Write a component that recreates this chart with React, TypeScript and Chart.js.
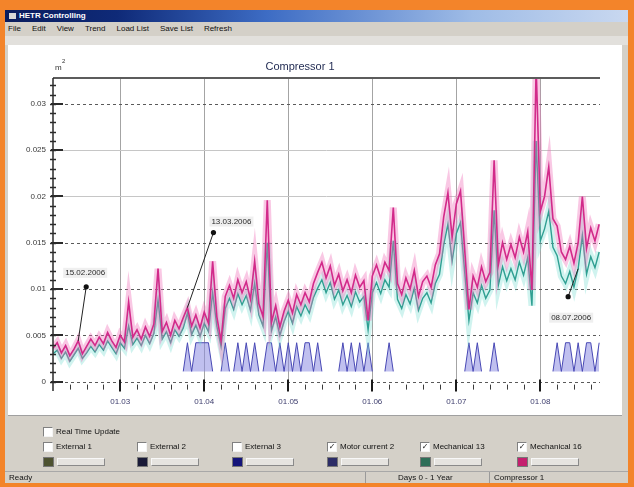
import React, { useEffect, useRef } from "react";
import { Chart, registerables } from "chart.js";

Chart.register(...registerables);

// Regularly sampled trend: sample k sits at SAMPLE_START + k * SAMPLE_STEP
const SAMPLE_START = 200;
const SAMPLE_STEP = 50;

// Mechanical 16 (magenta), units of 1e-3
const MECHANICAL_16 = [
  3.6, 4.2, 3.1, 3.9, 2.8, 3.5, 4.4, 3.0, 3.8, 4.6,
  3.9, 4.8, 4.1, 5.3, 4.4, 3.7, 5.0, 4.3, 8.6, 4.8,
  5.6, 4.6, 5.9, 4.9, 6.2, 12.2, 5.4, 6.4, 5.0, 6.6,
  5.7, 6.9, 8.0, 6.0, 7.2, 5.8, 7.5, 6.3, 13.0, 7.0,
  4.4, 9.2, 10.4, 9.0, 11.0, 9.6, 10.8, 8.9, 13.0, 8.4,
  7.0, 19.6, 6.4, 8.2, 5.9, 7.6, 8.8, 7.4, 9.4, 8.3,
  9.6, 8.6, 10.6, 11.8, 12.9, 11.2, 12.5, 10.4, 11.6, 9.8,
  11.0, 9.6, 11.5, 10.2, 10.9, 6.6, 11.4, 12.6, 11.2, 12.9,
  12.0, 18.8, 10.6, 9.4, 11.2, 10.0, 12.0, 9.2, 10.8, 11.4,
  10.2, 12.6, 13.8, 17.8, 20.4, 15.6, 19.2, 20.6, 14.2, 7.8,
  11.4, 10.2, 12.4, 10.8, 11.8, 23.9, 12.6, 15.0, 13.2, 14.8,
  13.4, 15.6, 14.0, 16.2, 9.9, 34.0, 18.4, 20.0, 23.2, 17.6,
  16.8, 14.0, 13.2, 14.6, 12.8, 15.0, 20.0, 14.4, 16.6, 15.2, 17.0,
];

// Mechanical 13 (teal), units of 1e-3
const MECHANICAL_13 = [
  3.0, 3.4, 2.5, 3.2, 2.2, 2.9, 3.6, 2.5, 3.1, 3.8,
  3.2, 4.0, 3.4, 4.4, 3.7, 3.0, 4.2, 3.6, 6.0, 4.0,
  4.7, 3.9, 5.0, 4.1, 5.2, 8.8, 4.6, 5.4, 4.2, 5.6,
  4.9, 5.8, 7.4, 5.1, 6.1, 4.9, 6.3, 5.4, 9.6, 6.0,
  3.8, 7.9, 9.0, 7.8, 9.5, 8.3, 9.3, 7.7, 10.6, 7.2,
  6.0, 15.0, 5.5, 7.0, 5.0, 6.5, 7.6, 6.3, 8.1, 7.1,
  8.3, 7.4, 9.1, 10.1, 11.0, 9.6, 10.7, 8.9, 9.9, 8.3,
  9.3, 8.1, 9.7, 8.6, 9.2, 5.6, 9.6, 10.7, 9.5, 11.0,
  10.2, 15.2, 8.9, 7.9, 9.4, 8.4, 10.1, 7.7, 9.0, 9.6,
  8.5, 10.6, 11.6, 14.8, 17.0, 13.0, 16.0, 17.2, 11.8, 6.6,
  9.6, 8.5, 10.4, 9.0, 9.9, 18.5, 10.4, 12.4, 10.9, 12.2,
  11.0, 12.9, 11.5, 13.4, 8.2, 26.0, 15.2, 16.5, 18.4, 14.5,
  13.6, 11.4, 10.6, 11.9, 10.2, 12.2, 15.8, 11.6, 13.5, 12.3, 14.0,
];

// Motor current 2: on/off state trace (low 1.1, high 4.2), no record before sample 31
const MOTOR_CURRENT_2 = [
  null, null, null, null, null, null, null, null, null, null,
  null, null, null, null, null, null, null, null, null, null,
  null, null, null, null, null, null, null, null, null, null,
  null,
  1.1, 4.2, 1.1, 4.2, 4.2, 4.2, 4.2, 1.1, 1.1, 1.1,
  4.2, 1.1, 1.1, 4.2, 1.1, 4.2, 1.1, 4.2, 1.1, 1.1,
  4.2, 4.2, 1.1, 4.2, 1.1, 4.2, 1.1, 4.2, 1.1, 4.2,
  4.2, 1.1, 4.2, 1.1, 1.1, 1.1, 1.1, 1.1, 4.2, 1.1,
  4.2, 1.1, 4.2, 1.1, 4.2, 1.1, 1.1, 1.1, 1.1, 4.2,
  1.1, 1.1, 1.1, 1.1, 1.1, 1.1, 1.1, 1.1, 1.1, 1.1,
  1.1, 1.1, 1.1, 1.1, 1.1, 1.1, 1.1, 1.1, 4.2, 1.1,
  4.2, 1.1, 1.1, 1.1, 4.2, 1.1, 1.1, 1.1, 1.1, 1.1,
  1.1, 1.1, 1.1, 1.1, 1.1, 1.1, 1.1, 1.1, 1.1, 4.2,
  1.1, 4.2, 4.2, 1.1, 4.2, 1.1, 4.2, 4.2, 1.1, 4.2,
];
const MOTOR_LOW = 1.1;

// Axes
const X_TICK_VALUES = [1000, 2000, 3000, 4000, 5000, 6000];
const X_TICK_LABELS = ["01.03", "01.04", "01.05", "01.06", "01.07", "01.08"];
const Y_TICK_VALUES = [0, 5, 10, 15, 20, 25, 30];
const Y_TICK_LABELS = ["0", "0.005", "0.01", "0.015", "0.02", "0.025", "0.03"];

// Marked samples
const CALLOUT_DATES = ["15.02.2006", "13.03.2006", "08.07.2006"];
const CALLOUT_SAMPLES = [6, 32, 125];
const CALLOUT_SERIES = ["m16", "m16", "m13"];

// Channel panel
const CHANNEL_NAMES = ["External 1", "External 2", "External 3", "Motor current 2", "Mechanical 13", "Mechanical 16"];
const CHANNEL_ON = [false, false, false, true, true, true];
const CHANNEL_COLORS = ["#4d5230", "#1a1a38", "#14147a", "#2c2c66", "#2e6e58", "#c4206e"];
const MENU_ITEMS = ["File", "Edit", "View", "Trend", "Load List", "Save List", "Refresh"];

const FONT = '"Liberation Sans", Arial, sans-serif';

const toPoints = (vals: (number | null)[]) =>
  vals.map((v, i) => ({ x: SAMPLE_START + i * SAMPLE_STEP, y: v }));

const SERIES: Record<string, number[]> = { m16: MECHANICAL_16, m13: MECHANICAL_13 };

// Callout geometry, pixels: dot offset from the sample, label centre offset from the dot
const CALLOUT_DOT = [[8, -54], [26, -75], [-10, 28]];
const CALLOUT_LABEL = [[-1, -14], [18, -11], [3, 21]];

const framePlugin = {
  id: "trendFrame",
  beforeDatasetsDraw(chart: any) {
    const { ctx, chartArea: a, scales } = chart;
    const x = scales.x, y = scales.y;
    ctx.save();
    // vertical grid
    ctx.strokeStyle = "#a4a4a4";
    ctx.lineWidth = 1;
    X_TICK_VALUES.forEach((v) => {
      const px = Math.round(x.getPixelForValue(v)) + 0.5;
      ctx.beginPath();
      ctx.moveTo(px, a.top);
      ctx.lineTo(px, a.bottom);
      ctx.stroke();
    });
    // horizontal grid
    Y_TICK_VALUES.forEach((v) => {
      const py = Math.round(y.getPixelForValue(v)) + 0.5;
      const light = v === 20 || v === 25;
      ctx.strokeStyle = light ? "#c6c6c6" : "#5a5a5a";
      ctx.setLineDash(light ? [] : [3, 3]);
      ctx.beginPath();
      ctx.moveTo(a.left, py);
      ctx.lineTo(a.right, py);
      ctx.stroke();
    });
    ctx.setLineDash([]);
    ctx.restore();
  },
  afterDatasetsDraw(chart: any) {
    const { ctx, chartArea: a, scales } = chart;
    const x = scales.x, y = scales.y;
    ctx.save();
    // top border
    ctx.strokeStyle = "#5c5c5c";
    ctx.lineWidth = 2;
    ctx.beginPath();
    ctx.moveTo(a.left, a.top);
    ctx.lineTo(a.right, a.top);
    ctx.stroke();
    // left axis
    ctx.strokeStyle = "#2a2a2a";
    ctx.lineWidth = 1.5;
    ctx.beginPath();
    ctx.moveTo(a.left, a.top);
    ctx.lineTo(a.left, a.bottom + 2);
    ctx.stroke();
    // y minor ticks
    ctx.lineWidth = 1.5;
    for (let v = Math.ceil(y.min); v <= y.max; v += 1) {
      const py = Math.round(y.getPixelForValue(v)) + 0.5;
      ctx.beginPath();
      ctx.moveTo(a.left - 3, py);
      ctx.lineTo(a.left + 3, py);
      ctx.stroke();
    }
    // y major ticks
    ctx.lineWidth = 2;
    Y_TICK_VALUES.forEach((v) => {
      const py = Math.round(y.getPixelForValue(v));
      ctx.beginPath();
      ctx.moveTo(a.left - 2, py);
      ctx.lineTo(a.left + 10, py);
      ctx.stroke();
    });
    // x minor ticks
    const y0 = y.getPixelForValue(0);
    ctx.lineWidth = 1;
    ctx.strokeStyle = "#3a3a3a";
    for (let v = 400; v <= x.max; v += 200) {
      if (v % 1000 === 0) continue;
      const px = Math.round(x.getPixelForValue(v)) + 0.5;
      ctx.beginPath();
      ctx.moveTo(px, y0 + 3);
      ctx.lineTo(px, y0 + 8);
      ctx.stroke();
    }
    // x major ticks
    ctx.strokeStyle = "#1a1a1a";
    ctx.lineWidth = 2;
    X_TICK_VALUES.forEach((v) => {
      const px = Math.round(x.getPixelForValue(v));
      ctx.beginPath();
      ctx.moveTo(px, y0 - 2);
      ctx.lineTo(px, y0 + 10);
      ctx.stroke();
    });
    // callouts
    ctx.font = `8px ${FONT}`;
    ctx.textAlign = "center";
    ctx.textBaseline = "middle";
    CALLOUT_DATES.forEach((label, k) => {
      const s = CALLOUT_SAMPLES[k];
      const vals = SERIES[CALLOUT_SERIES[k]];
      const tx = x.getPixelForValue(SAMPLE_START + s * SAMPLE_STEP);
      const ty = y.getPixelForValue(vals[s]);
      const dx = tx + CALLOUT_DOT[k][0];
      const dy = ty + CALLOUT_DOT[k][1];
      ctx.strokeStyle = "#222";
      ctx.lineWidth = 1;
      ctx.beginPath();
      ctx.moveTo(tx, ty);
      ctx.lineTo(dx, dy);
      ctx.stroke();
      ctx.fillStyle = "#111";
      ctx.beginPath();
      ctx.arc(dx, dy, 2.6, 0, Math.PI * 2);
      ctx.fill();
      const lx = dx + CALLOUT_LABEL[k][0];
      const ly = dy + CALLOUT_LABEL[k][1];
      const w = ctx.measureText(label).width + 4;
      ctx.fillStyle = "rgba(238,238,238,0.95)";
      ctx.fillRect(lx - w / 2, ly - 5, w, 10);
      ctx.fillStyle = "#2a2a2a";
      ctx.fillText(label, lx, ly);
    });
    ctx.restore();
  },
};

function Check({ on }: { on: boolean }) {
  return (
    <div
      style={{
        position: "absolute", left: 0, top: 0, width: 8, height: 8, background: "#fff",
        borderTop: "1px solid #808080", borderLeft: "1px solid #808080",
        borderRight: "1px solid #f4f4f4", borderBottom: "1px solid #f4f4f4",
        fontSize: 8, lineHeight: "8px", textAlign: "center", color: "#202020",
        fontFamily: '"DejaVu Sans", sans-serif',
      }}
    >
      {on ? "✓" : ""}
    </div>
  );
}

export default function App() {
  const canvasRef = useRef<HTMLCanvasElement>(null);

  useEffect(() => {
    const segHide = (ctx: any) =>
      ctx.p0.parsed.y <= MOTOR_LOW && ctx.p1.parsed.y <= MOTOR_LOW ? "rgba(0,0,0,0)" : undefined;
    const chart = new Chart(canvasRef.current as HTMLCanvasElement, {
      type: "line",
      data: {
        datasets: [
          {
            label: "Mechanical 16",
            data: toPoints(MECHANICAL_16),
            borderColor: "#d22a8a",
            borderWidth: 1.6,
            pointRadius: 0,
            order: 1,
          },
          {
            label: "Mechanical 16 band",
            data: toPoints(MECHANICAL_16),
            borderColor: "rgba(238,110,185,0.38)",
            borderWidth: 7,
            pointRadius: 0,
            order: 2,
          },
          {
            label: "Mechanical 13",
            data: toPoints(MECHANICAL_13),
            borderColor: "#2f9f92",
            borderWidth: 1.4,
            pointRadius: 0,
            order: 3,
          },
          {
            label: "Mechanical 13 band",
            data: toPoints(MECHANICAL_13),
            borderColor: "rgba(120,220,210,0.35)",
            borderWidth: 7,
            pointRadius: 0,
            order: 4,
          },
          {
            label: "Motor current 2",
            data: toPoints(MOTOR_CURRENT_2),
            borderColor: "#4848b4",
            backgroundColor: "rgba(140,140,225,0.55)",
            borderWidth: 1,
            pointRadius: 0,
            spanGaps: false,
            fill: { value: MOTOR_LOW },
            segment: { borderColor: segHide },
            order: 5,
          },
        ] as any,
      },
      options: {
        responsive: false,
        animation: false,
        devicePixelRatio: 1,
        layout: { padding: { left: 0, top: 33, right: 22, bottom: 0 } },
        plugins: {
          legend: { display: false },
          tooltip: { enabled: false },
          title: { display: false },
        },
        scales: {
          x: {
            type: "linear",
            min: 200,
            max: 6710,
            afterBuildTicks: (s: any) => {
              s.ticks = X_TICK_VALUES.map((v) => ({ value: v }));
            },
            afterFit: (s: any) => {
              s.height = 26;
            },
            grid: { display: false, drawTicks: false },
            border: { display: false },
            ticks: {
              padding: 8,
              autoSkip: false,
              maxRotation: 0,
              color: "#3c3c6c",
              font: { size: 8, family: FONT },
              callback: (v: any) => X_TICK_LABELS[X_TICK_VALUES.indexOf(v)] ?? "",
            },
          },
          y: {
            type: "linear",
            min: -0.8,
            max: 32.8,
            afterBuildTicks: (s: any) => {
              s.ticks = Y_TICK_VALUES.map((v) => ({ value: v }));
            },
            afterFit: (s: any) => {
              s.width = 45;
            },
            grid: { display: false, drawTicks: false },
            border: { display: false },
            ticks: {
              padding: 7,
              autoSkip: false,
              color: "#3a3a3a",
              font: { size: 8, family: FONT },
              callback: (v: any) => Y_TICK_LABELS[Y_TICK_VALUES.indexOf(v)] ?? "",
            },
          },
        },
      } as any,
      plugins: [framePlugin],
    });
    return () => chart.destroy();
  }, []);

  const colX = [43, 137, 232, 327, 420, 517];

  return (
    <div
      style={{
        position: "fixed", left: 0, top: 0, width: 634, height: 487, overflow: "hidden",
        background: "#f3842a", fontFamily: FONT, fontSize: 8, color: "#111",
      }}
    >
      {/* window body */}
      <div style={{ position: "absolute", left: 5, top: 10, width: 623, height: 473, background: "#d4d0c8" }} />
      {/* caption */}
      <div
        style={{
          position: "absolute", left: 5, top: 10, width: 623, height: 12,
          background: "linear-gradient(to right, #0a1d5e 0%, #0f2a78 18%, #3d6cc4 42%, #9fbce6 75%, #c9d8f0 100%)",
        }}
      >
        <div style={{ position: "absolute", left: 4, top: 3, width: 7, height: 6, background: "#d8d8d8" }} />
        <div style={{ position: "absolute", left: 14, top: 1, color: "#fff", fontWeight: "bold", fontSize: 8 }}>
          HETR Controlling
        </div>
      </div>
      {/* menu */}
      <div style={{ position: "absolute", left: 8, top: 24, display: "flex", gap: 11, fontSize: 8 }}>
        {MENU_ITEMS.map((m) => (
          <span key={m}>{m}</span>
        ))}
      </div>
      <div style={{ position: "absolute", left: 5, top: 36, width: 623, height: 9, background: "#e2e0dc" }} />
      {/* plot panel */}
      <div
        style={{
          position: "absolute", left: 8, top: 45, width: 614, height: 370, background: "#fff",
          borderBottom: "1px solid #a0a0a0",
        }}
      />
      <canvas
        ref={canvasRef}
        width={614}
        height={370}
        style={{ position: "absolute", left: 8, top: 45, width: 614, height: 370 }}
      />
      <div
        style={{
          position: "absolute", left: 250, top: 60, width: 100, textAlign: "center",
          fontSize: 11, color: "#1e2850",
        }}
      >
        Compressor 1
      </div>
      <div style={{ position: "absolute", left: 55, top: 63, fontSize: 8, color: "#333" }}>m</div>
      <div style={{ position: "absolute", left: 62, top: 58, fontSize: 6, color: "#333" }}>2</div>

      {/* channel panel */}
      <div style={{ position: "absolute", left: 43, top: 427 }}>
        <Check on={false} />
        <div style={{ position: "absolute", left: 13, top: 0, whiteSpace: "nowrap" }}>Real Time Update</div>
      </div>
      {CHANNEL_NAMES.map((name, k) => (
        <div key={name} style={{ position: "absolute", left: colX[k], top: 442 }}>
          <Check on={CHANNEL_ON[k]} />
          <div style={{ position: "absolute", left: 13, top: 0, whiteSpace: "nowrap" }}>{name}</div>
          <div
            style={{
              position: "absolute", left: 0, top: 15, width: 9, height: 8,
              background: CHANNEL_COLORS[k], border: "1px solid #777",
            }}
          />
          <div
            style={{
              position: "absolute", left: 14, top: 16, width: 46, height: 6, background: "#e6e4e0",
              borderTop: "1px solid #f8f8f8", borderLeft: "1px solid #f8f8f8",
              borderRight: "1px solid #8a8a8a", borderBottom: "1px solid #8a8a8a",
            }}
          />
        </div>
      ))}

      {/* status bar */}
      <div style={{ position: "absolute", left: 5, top: 471, width: 623, height: 1, background: "#a8a8a8" }} />
      <div style={{ position: "absolute", left: 9, top: 473, fontSize: 8 }}>Ready</div>
      <div style={{ position: "absolute", left: 365, top: 472, width: 1, height: 11, background: "#9a9a9a" }} />
      <div style={{ position: "absolute", left: 398, top: 473, fontSize: 8 }}>Days 0 - 1 Year</div>
      <div style={{ position: "absolute", left: 489, top: 472, width: 1, height: 11, background: "#9a9a9a" }} />
      <div style={{ position: "absolute", left: 494, top: 473, fontSize: 8 }}>Compressor 1</div>
    </div>
  );
}
